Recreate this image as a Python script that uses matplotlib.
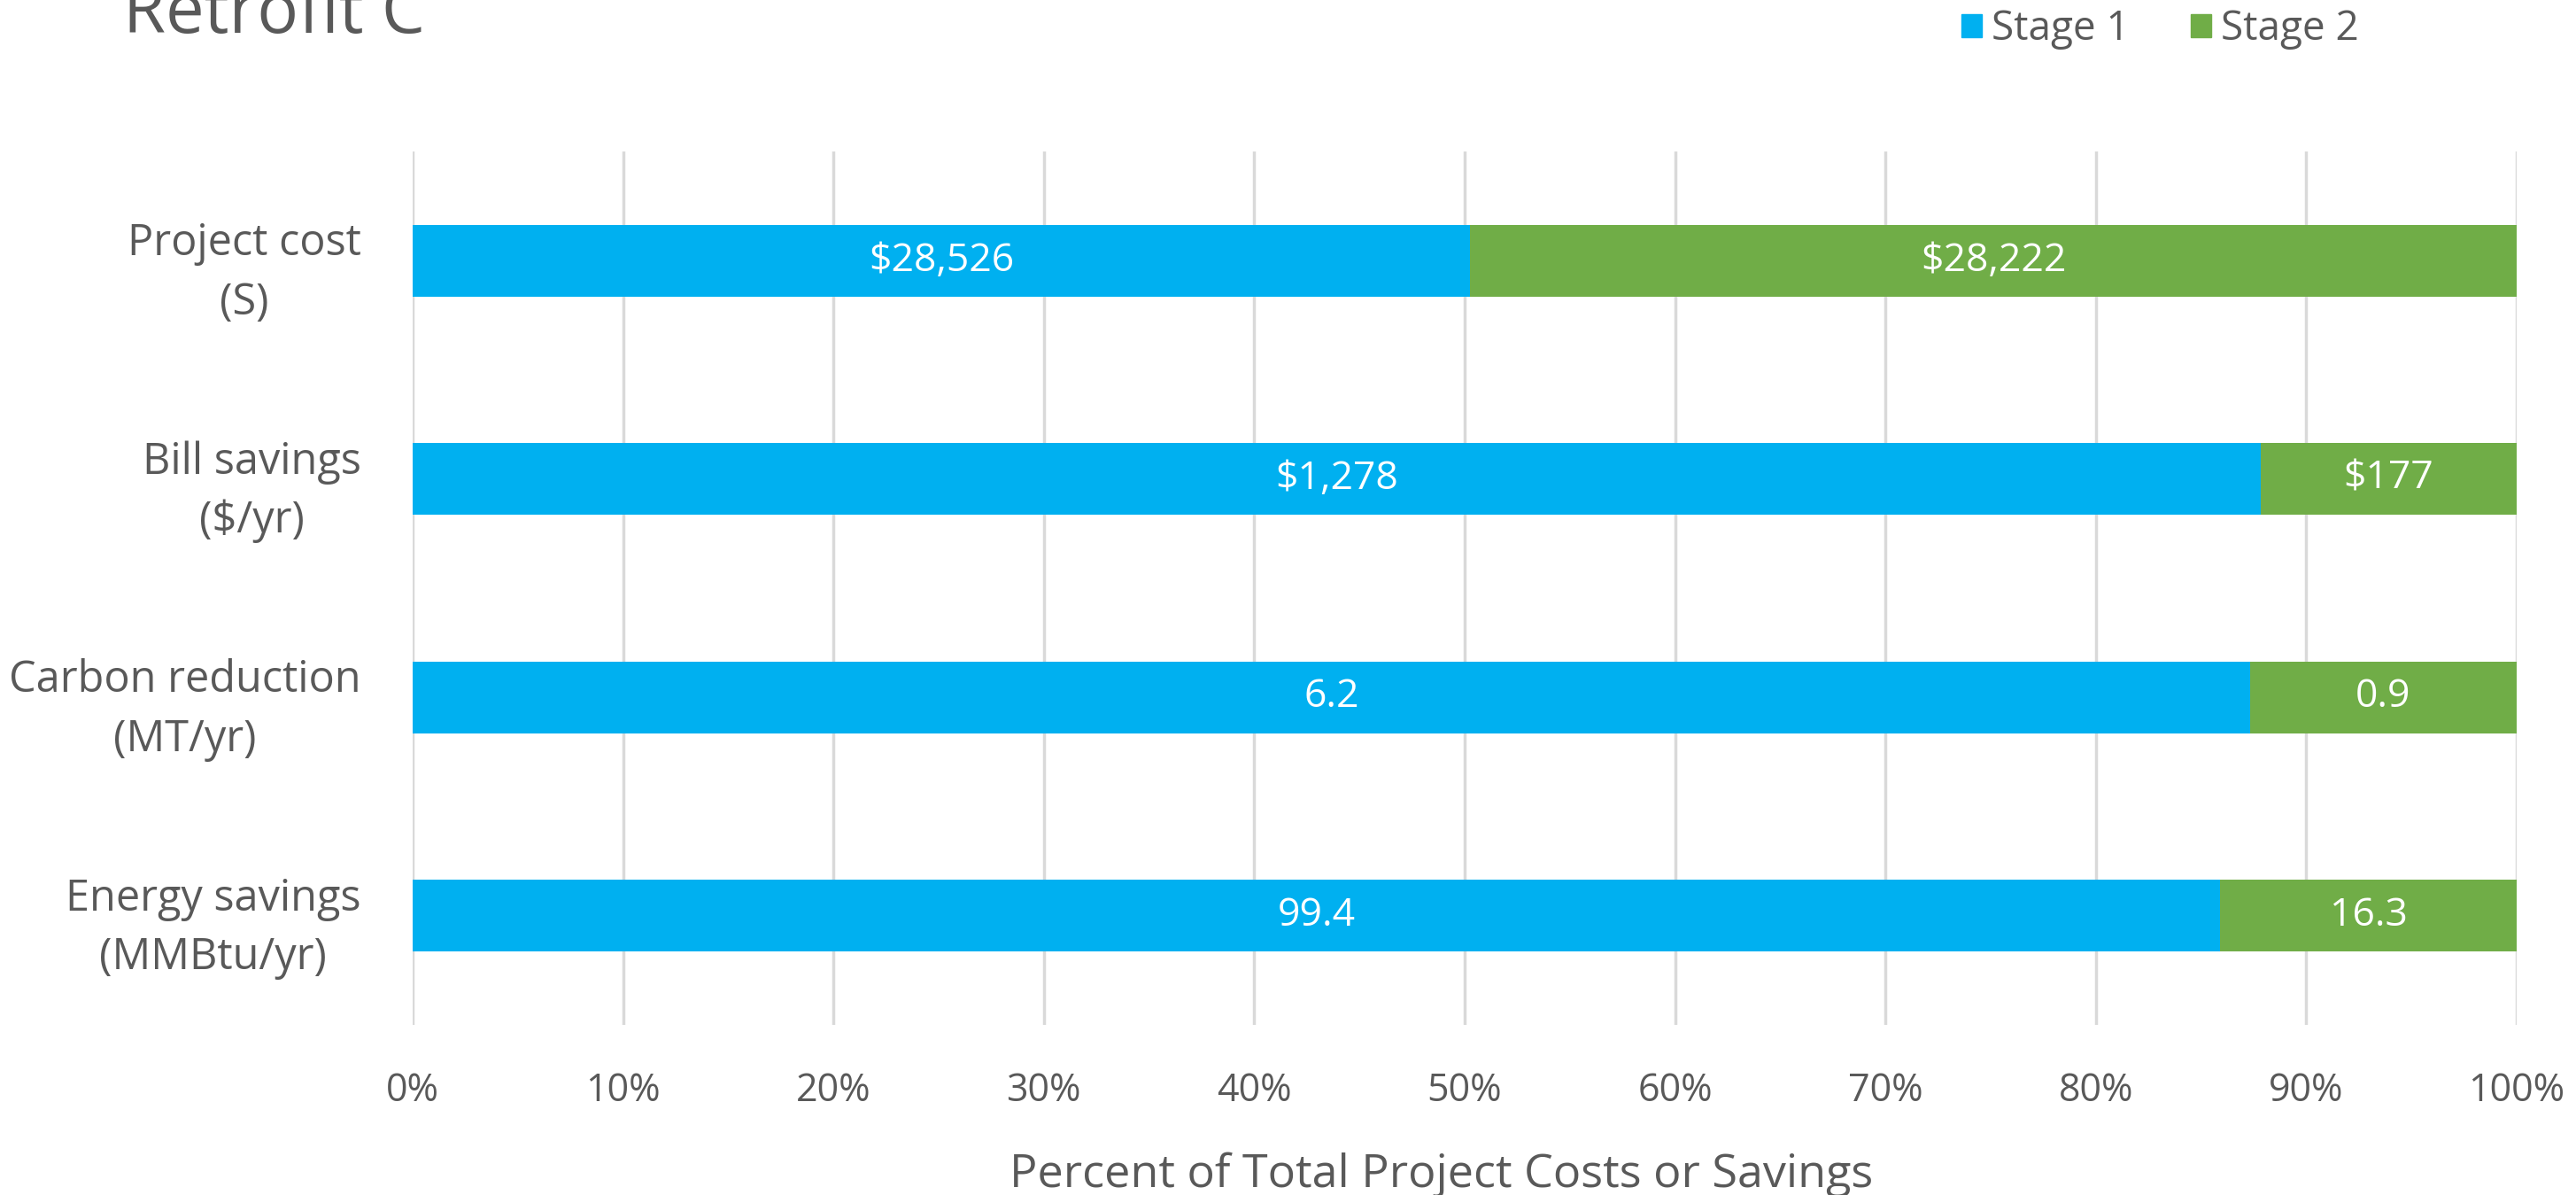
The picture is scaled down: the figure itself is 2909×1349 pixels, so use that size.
import matplotlib
matplotlib.use("Agg")
import matplotlib.pyplot as plt
from matplotlib.patches import Patch
import numpy as np

categories = ["Project cost\n(S)", "Bill savings\n($/yr)", "Carbon reduction\n(MT/yr)", "Energy savings\n(MMBtu/yr)"]
stage1 = [28526, 1278, 6.2, 99.4]
stage2 = [28222, 177, 0.9, 16.3]
stage1_labels = ["$28,526", "$1,278", "6.2", "99.4"]
stage2_labels = ["$28,222", "$177", "0.9", "16.3"]
xticks = [0, 10, 20, 30, 40, 50, 60, 70, 80, 90, 100]

plt.rcParams['font.family'] = ['Open Sans', 'DejaVu Sans']
TXT = "#595959"
BLUE = "#00B0F0"
GREEN = "#70AD47"

W, H = 2909, 1349
fig = plt.figure(figsize=(W/100, H/100), dpi=100)
left, right = 466/W, 2842/W
top, bottom = 1 - 171/H, 1 - 1157/H
ax = fig.add_axes([left, bottom, right-left, top-bottom])

s1 = np.array(stage1, float)
s2 = np.array(stage2, float)
tot = s1 + s2
p1 = s1/tot*100
p2 = s2/tot*100
y = np.arange(len(categories))
bh = 0.33
ax.barh(y, p1, height=bh, color=BLUE, zorder=3)
ax.barh(y, p2, left=p1, height=bh, color=GREEN, zorder=3)
for i in range(len(y)):
    ax.text(p1[i]/2, y[i], stage1_labels[i], ha='center', va='center', color='white', fontsize=32, zorder=4)
    ax.text(p1[i] + p2[i]/2, y[i], stage2_labels[i], ha='center', va='center', color='white', fontsize=32, zorder=4)

ax.set_xlim(0, 100)
ax.set_ylim(len(categories)-0.5, -0.5)
ax.set_xticks(xticks)
ax.set_xticklabels([f"{t}%" for t in xticks])
ax.set_yticks(y)
ax.set_yticklabels(categories, multialignment='center', linespacing=1.45, fontsize=35)
ax.tick_params(axis='both', length=0, colors=TXT)
ax.tick_params(axis='x', pad=38, labelsize=31)
ax.tick_params(axis='y', pad=42)
ax.grid(axis='x', color='#D9D9D9', linewidth=2.5, zorder=0)
for s in ax.spines.values():
    s.set_visible(False)
ax.set_xlabel("Percent of Total Project Costs or Savings", fontsize=37.5, color=TXT, labelpad=33)
ax.xaxis.label.set_x(0.489)

fig.text(139/W, 1 - 37/H, "Retrofit C", fontsize=56, color=TXT, ha='left', va='baseline')

handles = [Patch(color=BLUE, label="Stage 1"), Patch(color=GREEN, label="Stage 2")]
fig.legend(handles=handles, loc='center left', bbox_to_anchor=(2215/W, 1 - 33/H), ncol=2,
           frameon=False, fontsize=33, handlelength=0.5, handleheight=0.5,
           handletextpad=0.25, columnspacing=1.5, borderpad=0, borderaxespad=0,
           labelcolor=TXT)

fig.savefig("out.png", dpi=100)
